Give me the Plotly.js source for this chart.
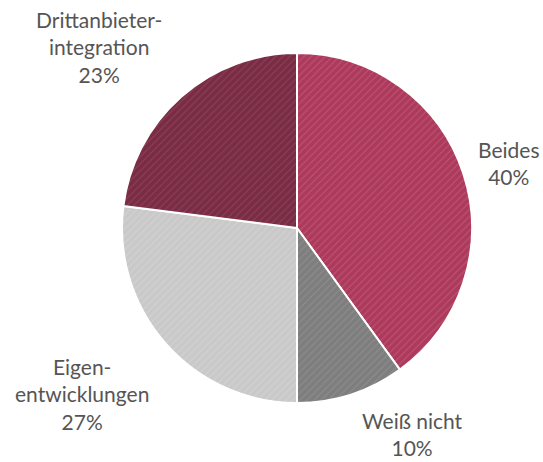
<!DOCTYPE html>
<html>
<head>
<meta charset="utf-8">
<script src="https://cdn.plot.ly/plotly-3.0.1.min.js"></script>
<style>html,body{margin:0;padding:0;background:#fff;}#chart{width:543px;height:462px;}</style>
</head>
<body>
<div id="chart"></div>
<script>
const categories = ["Beides", "Weiß nicht", "Eigen-<br>entwicklungen", "Drittanbieter-<br>integration"];
const values = [40, 10, 27, 23];
const colors = ["#ad3a5c", "#7e7e7e", "#c9c9c9", "#7a2c45"];
const hatch = ["#c66a86", "#999999", "#dadada", "#985069"];
const labelPos = [[509, 163], [412, 434], [82, 394], [99, 47]];

const W = 543, H = 462;
const cx = 297, cy = 228, r = 175;

const annotations = categories.map((c, i) => ({
  x: labelPos[i][0] / W,
  y: 1 - labelPos[i][1] / H,
  xref: "paper", yref: "paper",
  xanchor: "center", yanchor: "middle",
  showarrow: false,
  align: "center",
  text: c + "<br>" + values[i] + "%",
  font: {family: "Lato, 'Open Sans', sans-serif", size: 21, color: "#555555"}
}));

Plotly.newPlot("chart", [{
  type: "pie",
  values: values,
  labels: categories,
  sort: false,
  direction: "clockwise",
  rotation: 0,
  textinfo: "none",
  hoverinfo: "none",
  marker: {
    colors: colors,
    line: {color: "#ffffff", width: 2},
    pattern: {shape: "/", bgcolor: colors, fgcolor: hatch, fgopacity: 0.6, size: 5, solidity: 0.2}
  },
  domain: {x: [(cx - r) / W, (cx + r) / W], y: [1 - (cy + r) / H, 1 - (cy - r) / H]}
}], {
  width: W, height: H,
  margin: {l: 0, r: 0, t: 0, b: 0},
  showlegend: false,
  paper_bgcolor: "#ffffff",
  annotations: annotations
}, {displayModeBar: false, staticPlot: true});
</script>
</body>
</html>
